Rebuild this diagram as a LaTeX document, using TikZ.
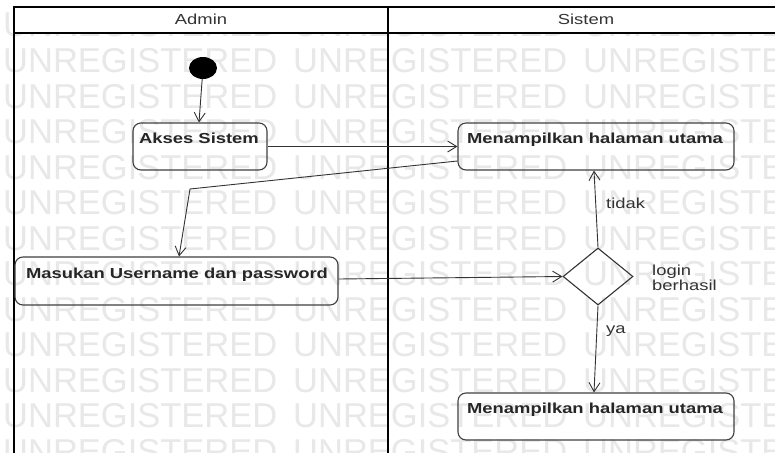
\documentclass[tikz,border=0pt]{standalone}
\usepackage{fontspec}
\setmainfont{Liberation Sans}
\usepackage{graphicx}
\usetikzlibrary{arrows.meta,shapes.geometric}

% text in this diagram is set wide
\newcommand\widetext[1]{\scalebox{1.27}[1]{#1}}

\begin{document}
\begin{tikzpicture}[x=1pt,y=-1pt,
  lane/.style={draw=black, line width=1.8pt},
  action/.style={draw=black!75, line width=1.1pt, rounded corners=8pt,
    inner sep=0pt, minimum height=47pt},
  actiontext/.style={anchor=base, inner sep=0pt,
    font=\fontsize{14.5}{17}\selectfont\bfseries, text=black!85},
  plain/.style={anchor=base west, inner sep=0pt,
    font=\fontsize{14.5}{17}\selectfont, text=black!80},
  decision/.style={diamond, draw=black!80, line width=1.1pt, inner sep=0pt,
    minimum width=70pt, minimum height=57pt},
  flow/.style={draw=black!80, line width=0.9pt,
    -{Straight Barb[length=9pt,width=11pt,line width=0.9pt]}},
  stamp/.style={anchor=base west, inner sep=0pt, text=black!9,
    font=\fontsize{34.5}{40}\selectfont},
]
\useasboundingbox (0,0) rectangle (775,452);
\clip (0,0) rectangle (775,452);
\fill[white] (0,0) rectangle (775,452);

% background stamp text
\foreach \k in {0,...,12}{
  \foreach \j in {0,1,2}{
    \node[stamp] at (3+290*\j, 37+35.5*\k) {UNREGISTERED};
  }
}

% swimlanes
\fill[white] (14,7) rectangle (790,33);
\draw[lane] (14,460) -- (14,7) -- (790,7);
\draw[lane] (14,33) -- (790,33);
\draw[lane] (388,7) -- (388,460);
\draw[lane] (785,7) -- (785,460);
\node[plain, anchor=base] (hadmin) at (201,25) {\widetext{Admin}};
\node[plain, anchor=base] (hsistem) at (586,25) {\widetext{Sistem}};

% initial node
\node[ellipse, fill=black, inner sep=0pt, minimum width=28pt, minimum height=22pt]
  (start) at (203,68) {};

% actions
\node[action, minimum width=134pt] (akses) at (200,146.5) {};
\node[actiontext] (taks) at (199,143) {\widetext{Akses Sistem}};

\node[action, minimum width=276pt] (menu1) at (596,146.5) {};
\node[actiontext] (tmenu1) at (595,143) {\widetext{Menampilkan halaman utama}};

\node[action, minimum width=323pt, minimum height=48pt] (masukan) at (176.5,281) {};
\node[actiontext] (tmasukan) at (177,278) {\widetext{Masukan Username dan password}};

\node[action, minimum width=276pt] (menu2) at (596,416.5) {};
\node[actiontext] (tmenu2) at (595,413) {\widetext{Menampilkan halaman utama}};

% decision
\node[decision] (cek) at (598,276.5) {};
\node[plain] (ltidak) at (606,208) {\widetext{tidak}};
\node[plain] (lya) at (606,333) {\widetext{ya}};
\node[plain] (llogin) at (652,275) {\widetext{login}};
\node[plain] (lberhasil) at (652,290) {\widetext{berhasil}};

% flows
\coordinate (bend) at (190,189);
\draw[flow] (start) -- ([xshift=-1pt]akses.north);
\draw[flow] (akses.east) -- (menu1.west);
\draw[flow] ([yshift=-14.5pt]menu1.west) -- (bend) -- ([xshift=2.5pt]masukan.north);
\draw[flow] ([yshift=2pt]masukan.east) -- (cek.west);
\draw[flow] (cek.north) -- ([xshift=-2pt]menu1.south);
\draw[flow] (cek.south) -- ([xshift=-2pt]menu2.north);
\end{tikzpicture}
\end{document}
